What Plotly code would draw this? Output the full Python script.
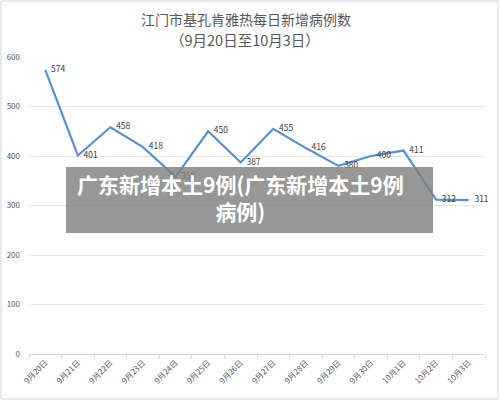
import plotly.graph_objects as go

dates = ["9月20日", "9月21日", "9月22日", "9月23日", "9月24日", "9月25日", "9月26日",
         "9月27日", "9月28日", "9月29日", "9月30日", "10月1日", "10月2日", "10月3日"]
cases = [574, 401, 458, 418, 358, 450, 387, 455, 416, 380, 400, 411, 312, 311]
y_ticks = [0, 100, 200, 300, 400, 500, 600]

font_family = "Noto Sans CJK SC, Noto Sans, sans-serif"

H = 401; W = 500; l, r, t, b = 29, 15, 57, 47
ph = H - t - b; pw = W - l - r

fig = go.Figure()
fig.add_trace(go.Scatter(
    x=dates, y=cases, mode="lines+text",
    line=dict(color="#5592cf", width=2.2),
    text=[f"   {v}" for v in cases], textposition="middle right",
    textfont=dict(size=8.5, color="#404040", family=font_family),
    cliponaxis=False, hoverinfo="skip",
))

fig.update_layout(
    width=W, height=H,
    margin=dict(l=l, r=r, t=t, b=b, autoexpand=False),
    paper_bgcolor="white", plot_bgcolor="white",
    showlegend=False,
    font=dict(family=font_family, color="#595959"),
    xaxis=dict(
        type="category", tickangle=-45, showgrid=False, automargin=False,
        tickfont=dict(size=8, color="#595959"),
        showline=True, linecolor="#d9d9d9", linewidth=1,
        ticks="outside", ticklen=4, tickcolor="#d9d9d9",
        tickson="boundaries", range=[-0.5, 13.5],
    ),
    yaxis=dict(
        range=[0, 600], tickvals=y_ticks, showgrid=True, automargin=False,
        gridcolor="#e3e8ee", gridwidth=1, zeroline=False,
        tickfont=dict(size=8, color="#595959"), ticks="", ticklabelstandoff=8,
    ),
)

def py2paper(py):
    return (H - b - py) / ph

def px2paper(px):
    return (px - l) / pw

fig.add_annotation(text="江门市基孔肯雅热每日新增病例数", x=px2paper(246), y=py2paper(19),
                   xref="paper", yref="paper", yanchor="middle", showarrow=False,
                   font=dict(size=14, color="#595959"))
fig.add_annotation(text="（9月20日至10月3日）", x=px2paper(245), y=py2paper(39),
                   xref="paper", yref="paper", yanchor="middle", showarrow=False,
                   font=dict(size=14.5, color="#595959"))

# overlay box
x0, x1, y0, y1 = 66, 433, 167, 233
fig.add_shape(type="rect", xref="paper", yref="paper",
              x0=px2paper(x0), x1=px2paper(x1),
              y0=py2paper(y1), y1=py2paper(y0),
              fillcolor="rgba(128,128,128,0.82)", line=dict(width=0), layer="above")
fig.add_annotation(text="<b>广东新增本土9例(广东新增本土9例<br>病例)</b>",
                   xref="paper", yref="paper",
                   x=px2paper(240), y=py2paper(198), yanchor="middle",
                   showarrow=False, align="center",
                   font=dict(size=21, color="white", family=font_family))

# outer border
fig.add_shape(type="rect", xref="paper", yref="paper",
              x0=px2paper(1), x1=px2paper(W - 2),
              y0=py2paper(H - 2), y1=py2paper(1),
              line=dict(color="#d0d4d8", width=1), fillcolor="rgba(0,0,0,0)")

fig.write_html("out.html")
